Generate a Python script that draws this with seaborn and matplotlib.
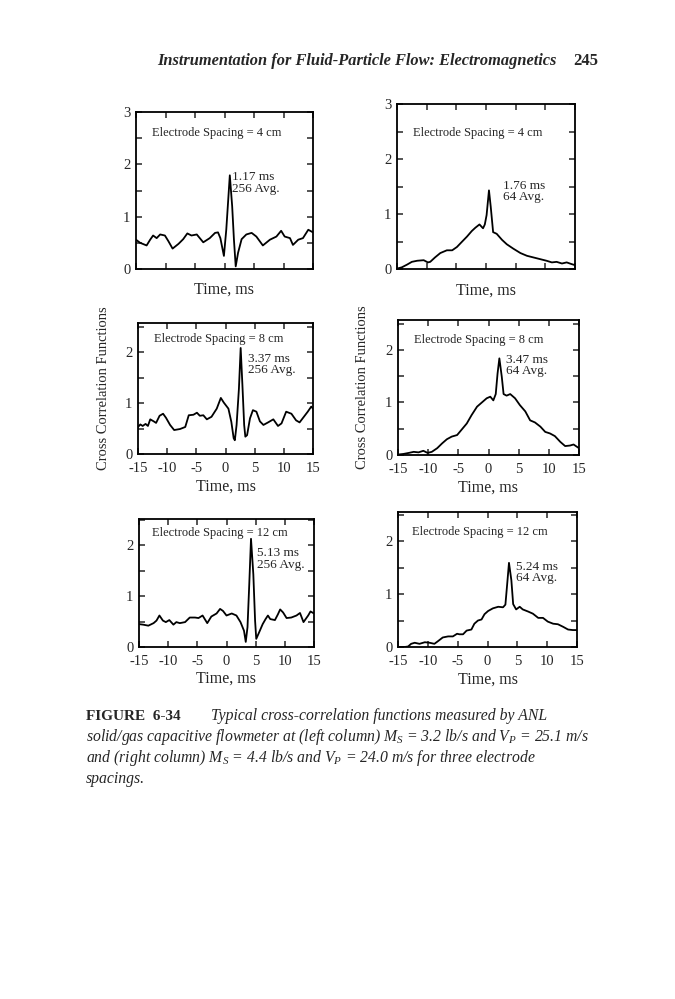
import matplotlib
matplotlib.use("Agg")
import matplotlib.pyplot as plt
from matplotlib.ticker import MultipleLocator
import seaborn as sns

# --- data (time in ms, correlation value) ---
# left column, 4 cm
t1 = [-15.0, -14.3, -13.2, -12.6, -12.1, -11.5, -10.9, -10.1, -9.5, -8.8, -7.8, -7.0, -6.3,
      -5.6, -4.7, -3.6, -2.5, -1.6, -1.1, -0.7, -0.1, 0.3, 0.9, 1.3, 1.6, 1.9, 2.3, 2.9,
      3.7, 4.6, 5.4, 6.5, 7.7, 8.8, 9.6, 10.2, 11.1, 11.6, 12.5, 13.3, 14.2, 15.0]
y1 = [0.56, 0.50, 0.45, 0.56, 0.64, 0.59, 0.66, 0.64, 0.53, 0.39, 0.48, 0.57, 0.68,
      0.64, 0.66, 0.51, 0.59, 0.69, 0.70, 0.59, 0.25, 0.75, 1.79, 1.20, 0.56, 0.05, 0.31, 0.57,
      0.66, 0.69, 0.62, 0.45, 0.56, 0.62, 0.73, 0.62, 0.59, 0.46, 0.56, 0.59, 0.75, 0.70]

# right column, 4 cm
t2 = [-14.9, -14.2, -13.3, -12.5, -11.6, -10.5, -9.8, -9.4, -8.6, -7.7, -6.6, -5.7, -4.9,
      -4.1, -3.2, -2.4, -1.8, -1.1, -0.5, -0.2, 0.1, 0.5, 0.8, 1.2, 1.8, 2.7, 3.5, 4.6,
      5.8, 6.9, 8.0, 9.1, 10.2, 11.1, 11.9, 12.8, 13.6, 14.4, 15.0]
y2 = [0.01, 0.03, 0.08, 0.13, 0.15, 0.16, 0.12, 0.13, 0.21, 0.29, 0.34, 0.34, 0.40,
      0.49, 0.59, 0.69, 0.75, 0.81, 0.74, 0.81, 0.98, 1.43, 1.13, 0.67, 0.64, 0.53, 0.45, 0.37,
      0.29, 0.24, 0.21, 0.18, 0.15, 0.12, 0.13, 0.10, 0.12, 0.09, 0.07]

# left column, 8 cm
t3 = [-15.0, -14.6, -14.2, -13.7, -13.3, -12.9, -12.3, -11.9, -11.3, -10.7, -10.2, -9.5,
      -8.8, -7.8, -6.9, -6.3, -5.5, -4.9, -4.4, -3.8, -3.2, -2.4, -1.5, -0.8, -0.3, 0.5,
      1.0, 1.4, 1.6, 1.9, 2.3, 2.6, 2.9, 3.2, 3.4, 3.7, 4.2, 4.7, 5.3, 5.9, 6.5, 7.3, 8.2,
      9.0, 9.6, 10.4, 11.3, 12.1, 12.7, 13.3, 14.1, 14.7, 15.0]
y3 = [0.53, 0.58, 0.55, 0.59, 0.55, 0.68, 0.64, 0.61, 0.75, 0.79, 0.71, 0.57,
      0.47, 0.49, 0.53, 0.76, 0.77, 0.81, 0.75, 0.76, 0.68, 0.73, 0.89, 1.10, 1.01, 0.89,
      0.63, 0.31, 0.27, 0.57, 1.28, 2.08, 1.35, 0.57, 0.34, 0.37, 0.70, 0.86, 0.83, 0.64, 0.57, 0.62, 0.68,
      0.55, 0.60, 0.83, 0.79, 0.66, 0.62, 0.71, 0.83, 0.93, 0.89]

# right column, 8 cm
t4 = [-14.9, -14.1, -13.2, -12.4, -11.6, -10.8, -10.1, -9.4, -8.5, -7.7, -6.9, -6.1, -5.2,
      -4.4, -3.6, -2.8, -1.9, -1.1, -0.3, 0.3, 0.8, 1.2, 1.5, 1.8, 2.2, 2.5, 3.0, 3.6, 4.4,
      5.2, 6.1, 6.9, 7.7, 8.6, 9.4, 10.2, 11.0, 11.9, 12.7, 13.5, 14.1, 15.0]
y4 = [0.01, 0.02, 0.04, 0.06, 0.05, 0.08, 0.04, 0.06, 0.13, 0.22, 0.30, 0.35, 0.38,
      0.49, 0.60, 0.76, 0.92, 1.00, 1.08, 1.11, 1.04, 1.16, 1.55, 1.84, 1.49, 1.16, 1.13, 1.16, 1.08,
      0.95, 0.83, 0.66, 0.62, 0.54, 0.44, 0.41, 0.36, 0.25, 0.17, 0.18, 0.20, 0.13]

# left column, 12 cm
t5 = [-15.0, -14.3, -13.4, -12.5, -12.0, -11.5, -10.9, -10.4, -9.8, -9.1, -8.6, -8.0, -7.1,
      -6.3, -5.4, -4.8, -4.1, -3.3, -2.6, -1.7, -1.1, -0.6, 0.0, 0.9, 1.7, 2.4, 3.0, 3.3,
      3.6, 3.9, 4.2, 4.6, 4.9, 5.1, 5.6, 6.2, 6.7, 7.1, 7.5, 8.3, 8.8, 9.2, 9.7, 10.3,
      11.1, 12.0, 12.6, 13.2, 14.0, 14.4, 15.0]
y5 = [0.45, 0.44, 0.42, 0.47, 0.52, 0.62, 0.52, 0.49, 0.53, 0.44, 0.49, 0.47, 0.49,
      0.58, 0.58, 0.57, 0.62, 0.47, 0.60, 0.66, 0.75, 0.71, 0.62, 0.66, 0.62, 0.49, 0.32, 0.10,
      0.39, 1.23, 2.13, 1.43, 0.52, 0.16, 0.29, 0.45, 0.55, 0.62, 0.55, 0.53, 0.64, 0.74, 0.68, 0.57,
      0.58, 0.62, 0.67, 0.49, 0.62, 0.70, 0.66]

# right column, 12 cm
t6 = [-14.9, -13.9, -13.3, -12.8, -12.2, -11.4, -10.5, -9.7, -8.9, -8.3, -7.5, -6.6, -5.8,
      -5.1, -4.7, -4.1, -3.5, -2.7, -2.2, -1.6, -1.0, -0.5, 0.1, 0.9, 1.8, 2.6, 3.0, 3.3,
      3.6, 4.0, 4.3, 4.8, 5.4, 5.9, 6.8, 7.6, 8.5, 9.3, 10.1, 11.0, 11.8, 12.7, 13.5, 14.3, 15.0]
y6 = [0.00, 0.00, 0.01, 0.06, 0.08, 0.06, 0.09, 0.08, 0.06, 0.11, 0.18, 0.20, 0.20,
      0.25, 0.24, 0.24, 0.31, 0.33, 0.44, 0.50, 0.52, 0.62, 0.68, 0.73, 0.76, 0.75, 0.80, 1.19,
      1.59, 1.26, 0.81, 0.71, 0.76, 0.71, 0.67, 0.63, 0.55, 0.55, 0.48, 0.44, 0.43, 0.38, 0.33, 0.32, 0.32]

spacing_labels = ["Electrode Spacing = 4 cm", "Electrode Spacing = 4 cm",
                  "Electrode Spacing = 8 cm", "Electrode Spacing = 8 cm",
                  "Electrode Spacing = 12 cm", "Electrode Spacing = 12 cm"]
peak_labels = ["1.17 ms\n256 Avg.", "1.76 ms\n64 Avg.",
               "3.37 ms\n256 Avg.", "3.47 ms\n64 Avg.",
               "5.13 ms\n256 Avg.", "5.24 ms\n64 Avg."]

sns.set_style("ticks")
plt.rcParams["font.family"] = ["Liberation Serif", "DejaVu Serif"]
plt.rcParams["axes.unicode_minus"] = False
plt.rcParams["mathtext.fontset"] = "custom"
plt.rcParams["mathtext.rm"] = "Liberation Serif"
plt.rcParams["mathtext.it"] = "Liberation Serif:italic"
plt.rcParams["mathtext.bf"] = "Liberation Serif:bold"

W, H = 675, 999
fig = plt.figure(figsize=(6.75, 9.99), dpi=100)
fig.patch.set_facecolor("white")


def box(l, t, r, b):
    return [l / W, 1 - b / H, (r - l) / W, (b - t) / H]


# (t, y, box in px, ymax, spacing text xy, peak text xy, bottom row labels?, ylabel?)
panels = [
    (t1, y1, box(136, 112, 313, 269), 3.0, (-12.3, 2.6), (1.35, 1.645), False, False),
    (t2, y2, box(397, 104, 575, 269), 3.0, (-12.3, 2.48), (2.8, 1.41), False, False),
    (t3, y3, box(138, 323, 313, 454), 2.57, (-12.3, 2.26), (3.8, 1.755), True, True),
    (t4, y4, box(398, 320, 579, 455), 2.57, (-12.4, 2.19), (2.9, 1.70), True, True),
    (t5, y5, box(139, 519, 314, 647), 2.52, (-12.7, 2.24), (5.25, 1.735), True, False),
    (t6, y6, box(398, 512, 577, 647), 2.55, (-12.6, 2.18), (4.8, 1.405), True, False),
]

for i, (t, y, pos, ymax, sxy, pxy, xlab, ylab) in enumerate(panels):
    ax = fig.add_axes(pos)
    sns.lineplot(x=t, y=y, ax=ax, color="black", linewidth=1.3)
    ax.set_xlim(-15, 15)
    ax.set_ylim(0, ymax)
    ax.xaxis.set_major_locator(MultipleLocator(5))
    ax.yaxis.set_major_locator(MultipleLocator(1))
    ax.yaxis.set_minor_locator(MultipleLocator(0.5))
    ax.tick_params(which="both", direction="in", top=True, right=True, width=1.1, labelsize=10.5)
    ax.tick_params(which="both", length=4)
    ax.tick_params(axis="y", pad=4)
    ax.tick_params(axis="x", pad=5.5, labelbottom=xlab)
    for s in ax.spines.values():
        s.set_linewidth(1.3)
        s.set_color("black")
    ax.set_xlabel("Time, ms", fontsize=11.5)
    if xlab:
        ax.xaxis.set_label_coords(0.5, -0.185)
    else:
        ax.xaxis.set_label_coords(0.5, -0.08)
    if ylab:
        ax.set_ylabel("Cross Correlation Functions", fontsize=10.5)
        ax.yaxis.set_label_coords(-0.16, 0.5)
    else:
        ax.set_ylabel("")
    ax.text(sxy[0], sxy[1], spacing_labels[i], fontsize=9, ha="left", va="center")
    ax.text(pxy[0], pxy[1], peak_labels[i], fontsize=9.5, ha="left", va="center", linespacing=0.95)

# page header
fig.text(157 / W, 1 - 61 / H, "Instrumentation for Fluid-Particle Flow: Electromagnetics",
         fontsize=11.8, fontweight="bold", fontstyle="italic", ha="left", va="center")
fig.text(598 / W, 1 - 61 / H, "245", fontsize=12, fontweight="bold", ha="right", va="center")

# caption
fig.text(86 / W, 1 - 716 / H, "FIGURE  6-34", fontsize=11, fontweight="bold", ha="left", va="center")
fig.text(211 / W, 1 - 716 / H, "Typical cross-correlation functions measured by ANL",
         fontsize=11.3, fontstyle="italic", ha="left", va="center")
fig.text(86 / W, 1 - 737 / H,
         "solid/gas capacitive flowmeter at (left column) $M_S$ = 3.2 lb/s and $V_P$ = 25.1 m/s",
         fontsize=11.3, fontstyle="italic", ha="left", va="center")
fig.text(86 / W, 1 - 758 / H,
         "and (right column) $M_S$ = 4.4 lb/s and $V_P$ = 24.0 m/s for three electrode",
         fontsize=11.3, fontstyle="italic", ha="left", va="center")
fig.text(86 / W, 1 - 779 / H, "spacings.", fontsize=11.3, fontstyle="italic", ha="left", va="center")

fig.savefig("out.png", dpi=100)
